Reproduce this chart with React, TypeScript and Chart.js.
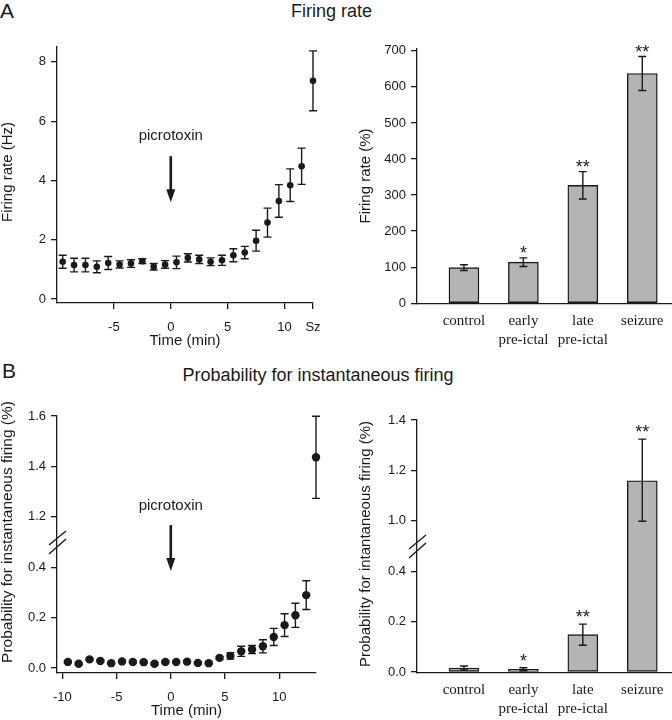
import React, { useEffect, useRef } from 'react';
import { Chart, registerables } from 'chart.js';

Chart.register(...registerables);

const SANS = '"Liberation Sans", Arial, Helvetica, sans-serif';
const SERIF = '"Liberation Serif", "Times New Roman", serif';
const INK = '#1a1a1a';
const BAR_FILL = '#b4b4b4';

// ---------- Panel A, left: firing rate over time ----------
const timeA = [-9.5, -8.5, -7.5, -6.5, -5.5, -4.5, -3.5, -2.5, -1.5, -0.5, 0.5, 1.5, 2.5, 3.5, 4.5, 5.5, 6.5, 7.5, 8.5, 9.5, 10.5, 11.5, 12.5];
const rateHz = [1.26, 1.15, 1.15, 1.09, 1.22, 1.17, 1.2, 1.28, 1.09, 1.17, 1.24, 1.39, 1.34, 1.26, 1.31, 1.48, 1.57, 1.97, 2.58, 3.31, 3.84, 4.48, 7.36];
const rateHzErr = [0.22, 0.23, 0.23, 0.2, 0.22, 0.12, 0.13, 0.08, 0.11, 0.13, 0.21, 0.14, 0.14, 0.13, 0.17, 0.22, 0.21, 0.35, 0.49, 0.55, 0.55, 0.61, 1.01];
const timeTicksA = [-5, 0, 5, 10, 12.5];
const timeTickLabelsA = ['-5', '0', '5', '10', 'Sz'];
const rateHzTicks = [0, 2, 4, 6, 8];

// ---------- Panel A, right: firing rate (%) ----------
const groups = [['control'], ['early', 'pre-ictal'], ['late', 'pre-ictal'], ['seizure']];
const ratePct = [99, 114, 327, 637];
const ratePctErr = [8, 12, 38, 47];
const ratePctStars = ['', '*', '**', '**'];
const ratePctTicks = [0, 100, 200, 300, 400, 500, 600, 700];

// ---------- Panel B, left: probability over time ----------
const timeB = [-9.5, -8.5, -7.5, -6.5, -5.5, -4.5, -3.5, -2.5, -1.5, -0.5, 0.5, 1.5, 2.5, 3.5, 4.5, 5.5, 6.5, 7.5, 8.5, 9.5, 10.5, 11.5, 12.5, 13.4];
const probB = [0.024, 0.017, 0.034, 0.028, 0.019, 0.026, 0.024, 0.023, 0.017, 0.024, 0.024, 0.025, 0.02, 0.019, 0.04, 0.048, 0.066, 0.073, 0.086, 0.123, 0.17, 0.209, 0.289, 1.436];
const probBErr = [0.004, 0.004, 0.004, 0.004, 0.004, 0.004, 0.004, 0.004, 0.004, 0.004, 0.004, 0.004, 0.004, 0.004, 0.006, 0.013, 0.02, 0.016, 0.026, 0.034, 0.045, 0.048, 0.057, 0.163];
const timeTicksB = [-10, -5, 0, 5, 10];
const probTicksB = [0, 0.2, 0.4, 1.2, 1.4, 1.6];

// ---------- Panel B, right: probability (%) per phase ----------
const probPct = [0.016, 0.011, 0.148, 1.159];
const probPctErr = [0.008, 0.006, 0.042, 0.165];
const probPctStars = ['', '*', '**', '**'];
const probPctTicks = [0, 0.2, 0.4, 1.0, 1.2, 1.4];

// broken axis: values in (lo, hi) are squeezed into `span` display units
function breakScale(lo: number, hi: number, span: number) {
  return (v: number) => (v <= lo ? v : v >= hi ? v - (hi - lo) + span : lo + ((v - lo) / (hi - lo)) * span);
}
const brkBL = breakScale(0.4, 1.2, 0.2);
const brkBR = breakScale(0.4, 1.0, 0.2);

const extras = {
  id: 'extras',
  afterDatasetsDraw(chart: any, _args: any, o: any) {
    const { ctx, chartArea } = chart;
    const ys = chart.scales.y;
    const xs = chart.scales.x;
    ctx.save();
    chart.data.datasets.forEach((ds: any, di: number) => {
      if (!ds.errLo) return;
      const meta = chart.getDatasetMeta(di);
      meta.data.forEach((el: any, i: number) => {
        const x = el.x;
        const y1 = ys.getPixelForValue(ds.errHi[i]);
        const y2 = ys.getPixelForValue(ds.errLo[i]);
        ctx.strokeStyle = INK;
        ctx.lineWidth = o.errWidth || 1.4;
        ctx.beginPath();
        ctx.moveTo(x, y1);
        ctx.lineTo(x, y2);
        ctx.moveTo(x - o.cap, y1);
        ctx.lineTo(x + o.cap, y1);
        ctx.moveTo(x - o.cap, y2);
        ctx.lineTo(x + o.cap, y2);
        ctx.stroke();
        if (ds.stars && ds.stars[i]) {
          ctx.fillStyle = INK;
          ctx.font = `18px ${SANS}`;
          ctx.textAlign = 'center';
          ctx.textBaseline = 'alphabetic';
          ctx.fillText(ds.stars[i], x, y1 - o.starGap);
        }
      });
    });
    if (o.arrow) {
      const a = o.arrow;
      const x = xs.getPixelForValue(a.x);
      ctx.fillStyle = INK;
      ctx.font = `15px ${SANS}`;
      ctx.textAlign = 'center';
      ctx.textBaseline = 'middle';
      ctx.fillText(a.text, x, ys.getPixelForValue(a.textY));
      const top = ys.getPixelForValue(a.top);
      const bot = ys.getPixelForValue(a.bottom);
      ctx.strokeStyle = INK;
      ctx.lineWidth = 2.6;
      ctx.beginPath();
      ctx.moveTo(x, top);
      ctx.lineTo(x, bot - 10);
      ctx.stroke();
      ctx.beginPath();
      ctx.moveTo(x - 4.5, bot - 13);
      ctx.lineTo(x + 4.5, bot - 13);
      ctx.lineTo(x, bot);
      ctx.closePath();
      ctx.fill();
    }
    if (o.breakAt != null) {
      const y = ys.getPixelForValue(o.breakAt);
      const x = chartArea.left;
      ctx.strokeStyle = INK;
      ctx.lineWidth = 1.4;
      ctx.beginPath();
      ctx.moveTo(x - 8, y + 3);
      ctx.lineTo(x + 9, y - 11);
      ctx.moveTo(x - 8, y + 12);
      ctx.lineTo(x + 9, y - 3);
      ctx.stroke();
    }
    if (o.yTitle) {
      const t = o.yTitle;
      ctx.translate(t.x, t.y);
      ctx.rotate(-Math.PI / 2);
      ctx.fillStyle = INK;
      ctx.font = `${t.size}px ${SANS}`;
      ctx.textAlign = 'center';
      ctx.textBaseline = 'middle';
      ctx.fillText(t.text, 0, 0);
    }
    ctx.restore();
  },
};

const gridStyle = (drawTicks: boolean) => ({
  display: true,
  drawOnChartArea: false,
  drawTicks,
  tickLength: 6,
  color: INK,
  lineWidth: 1.3,
});
const borderStyle = { display: true, color: INK, width: 1.3 };
const tickFont = { family: SANS, size: 13 };

function scatterConfig(p: any) {
  return {
    type: 'scatter',
    data: {
      datasets: [
        {
          data: p.xs.map((t: number, i: number) => ({ x: t, y: p.tf(p.ys[i]) })),
          errLo: p.ys.map((v: number, i: number) => p.tf(v - p.err[i])),
          errHi: p.ys.map((v: number, i: number) => p.tf(v + p.err[i])),
          pointRadius: p.radius,
          pointBackgroundColor: INK,
          pointBorderWidth: 0,
          clip: false,
        },
      ],
    },
    options: {
      responsive: false,
      animation: false,
      devicePixelRatio: 1,
      events: [],
      layout: { padding: p.padding },
      plugins: {
        legend: { display: false },
        tooltip: { enabled: false },
        extras: p.extras,
      },
      scales: {
        x: {
          type: 'linear',
          min: p.xMin,
          max: p.xMax,
          afterBuildTicks: (s: any) => {
            s.ticks = p.xTicks.map((v: number) => ({ value: v }));
          },
          afterFit: (s: any) => {
            s.height = p.xHeight;
          },
          ticks: {
            callback: (_v: any, i: number) => p.xLabels[i],
            color: INK,
            font: tickFont,
            padding: 11,
            autoSkip: false,
            maxRotation: 0,
          },
          grid: gridStyle(true),
          border: borderStyle,
          title: {
            display: true,
            text: 'Time (min)',
            color: INK,
            font: { family: SANS, size: 15 },
            padding: { top: 0, bottom: p.xTitlePad },
          },
        },
        y: {
          type: 'linear',
          min: p.yMin,
          max: p.yMax,
          afterBuildTicks: (s: any) => {
            s.ticks = p.yTicks.map((v: number) => ({ value: p.tf(v) }));
          },
          afterFit: (s: any) => {
            s.width = p.yWidth;
          },
          ticks: {
            callback: (_v: any, i: number) => p.yLabels[i],
            color: INK,
            font: tickFont,
            padding: 5,
          },
          grid: gridStyle(true),
          border: borderStyle,
        },
      },
    },
    plugins: [extras],
  };
}

function barConfig(p: any) {
  return {
    type: 'bar',
    data: {
      datasets: [
        {
          data: p.vals.map((v: number, i: number) => ({ x: i, y: p.tf(v) })),
          errLo: p.vals.map((v: number, i: number) => p.tf(v - p.err[i])),
          errHi: p.vals.map((v: number, i: number) => p.tf(v + p.err[i])),
          stars: p.stars,
          backgroundColor: BAR_FILL,
          borderColor: INK,
          borderWidth: 1.4,
          borderSkipped: false,
          barThickness: 30,
        },
      ],
    },
    options: {
      responsive: false,
      animation: false,
      devicePixelRatio: 1,
      events: [],
      layout: { padding: p.padding },
      plugins: {
        legend: { display: false },
        tooltip: { enabled: false },
        extras: p.extras,
      },
      scales: {
        x: {
          type: 'linear',
          min: -0.79,
          max: 3.5,
          offset: false,
          afterBuildTicks: (s: any) => {
            s.ticks = groups.map((_g, i) => ({ value: i }));
          },
          afterFit: (s: any) => {
            s.height = p.xHeight;
          },
          ticks: {
            callback: (_v: any, i: number) => groups[i],
            color: INK,
            font: { family: SERIF, size: 15, lineHeight: 1.25 },
            padding: 8,
            autoSkip: false,
            maxRotation: 0,
          },
          grid: { ...gridStyle(false), offset: false },
          border: borderStyle,
        },
        y: {
          type: 'linear',
          min: p.yMin,
          max: p.yMax,
          afterBuildTicks: (s: any) => {
            s.ticks = p.yTicks.map((v: number) => ({ value: p.tf(v) }));
          },
          afterFit: (s: any) => {
            s.width = p.yWidth;
          },
          ticks: {
            callback: (_v: any, i: number) => p.yLabels[i],
            color: INK,
            font: tickFont,
            padding: 5,
          },
          grid: gridStyle(true),
          border: borderStyle,
        },
      },
    },
    plugins: [extras],
  };
}

const ident = (v: number) => v;

function ChartCanvas({ make, left, top, width, height }: any) {
  const ref = useRef<HTMLCanvasElement>(null);
  useEffect(() => {
    const chart = new Chart(ref.current as HTMLCanvasElement, make() as any);
    return () => chart.destroy();
  }, []);
  return (
    <canvas
      ref={ref}
      width={width}
      height={height}
      style={{ position: 'absolute', left, top, width, height }}
    />
  );
}

export default function App() {
  const chartA1 = () =>
    scatterConfig({
      xs: timeA,
      ys: rateHz,
      err: rateHzErr,
      tf: ident,
      radius: 3.3,
      padding: { left: 0, top: 27, right: 23, bottom: 0 },
      xMin: -10,
      xMax: 12.5,
      xTicks: timeTicksA,
      xLabels: timeTickLabelsA,
      xHeight: 47,
      xTitlePad: 0,
      yMin: -0.13,
      yMax: 8.5,
      yTicks: rateHzTicks,
      yLabels: rateHzTicks.map(String),
      yWidth: 57,
      extras: {
        cap: 4,
        errWidth: 1.4,
        yTitle: { text: 'Firing rate (Hz)', x: 8, y: 152, size: 15 },
        arrow: { x: 0, text: 'picrotoxin', textY: 5.5, top: 4.82, bottom: 3.27 },
      },
    });

  const chartA2 = () =>
    barConfig({
      vals: ratePct,
      err: ratePctErr,
      stars: ratePctStars,
      tf: ident,
      padding: { left: 0, top: 29, right: 0, bottom: 0 },
      xHeight: 46,
      yMin: -2,
      yMax: 705,
      yTicks: ratePctTicks,
      yLabels: ratePctTicks.map(String),
      yWidth: 81,
      extras: {
        cap: 4,
        errWidth: 1.4,
        starGap: -1,
        yTitle: { text: 'Firing rate (%)', x: 30, y: 156, size: 15 },
      },
    });

  const chartB1 = () =>
    scatterConfig({
      xs: timeB,
      ys: probB,
      err: probBErr,
      tf: brkBL,
      radius: 4.2,
      padding: { left: 0, top: 31, right: 20, bottom: 0 },
      xMin: -10.5,
      xMax: 13.4,
      xTicks: timeTicksB,
      xLabels: timeTicksB.map(String),
      xHeight: 47,
      xTitlePad: 0,
      yMin: -0.02,
      yMax: 1.0,
      yTicks: probTicksB,
      yLabels: probTicksB.map((v) => v.toFixed(1)),
      yWidth: 57,
      extras: {
        cap: 4,
        errWidth: 1.4,
        breakAt: 0.5,
        yTitle: { text: 'Probability for instantaneous firing (%)', x: 8, y: 147, size: 15.5 },
        arrow: { x: 0, text: 'picrotoxin', textY: 0.643, top: 0.567, bottom: 0.385 },
      },
    });

  const chartB2 = () =>
    barConfig({
      vals: probPct,
      err: probPctErr,
      stars: probPctStars,
      tf: brkBR,
      padding: { left: 0, top: 35, right: 0, bottom: 0 },
      xHeight: 47,
      yMin: -0.004,
      yMax: 1.0,
      yTicks: probPctTicks,
      yLabels: probPctTicks.map((v) => v.toFixed(1)),
      yWidth: 81,
      extras: {
        cap: 4,
        errWidth: 1.4,
        starGap: 1,
        breakAt: 0.5,
        yTitle: { text: 'Probability for intantaneous firing (%)', x: 30, y: 159, size: 15 },
      },
    });

  return (
    <div
      style={{
        position: 'absolute',
        left: 0,
        top: 0,
        width: 672,
        height: 720,
        background: '#fff',
        fontFamily: SANS,
        color: INK,
        overflow: 'hidden',
      }}
    >
      <div style={{ position: 'absolute', left: 0, top: 0, fontSize: 21, lineHeight: '21px' }}>A</div>
      <div
        style={{
          position: 'absolute',
          left: 331.5,
          top: 2,
          fontSize: 18,
          lineHeight: '18px',
          whiteSpace: 'nowrap',
          transform: 'translateX(-50%)',
        }}
      >
        Firing rate
      </div>
      <div style={{ position: 'absolute', left: 2, top: 360, fontSize: 21, lineHeight: '21px' }}>B</div>
      <div
        style={{
          position: 'absolute',
          left: 318,
          top: 366,
          fontSize: 18,
          lineHeight: '18px',
          whiteSpace: 'nowrap',
          transform: 'translateX(-50%)',
        }}
      >
        Probability for instantaneous firing
      </div>
      <ChartCanvas make={chartA1} left={0} top={20} width={336} height={330} />
      <ChartCanvas make={chartA2} left={336} top={20} width={336} height={330} />
      <ChartCanvas make={chartB1} left={0} top={385} width={336} height={335} />
      <ChartCanvas make={chartB2} left={336} top={385} width={336} height={335} />
    </div>
  );
}
